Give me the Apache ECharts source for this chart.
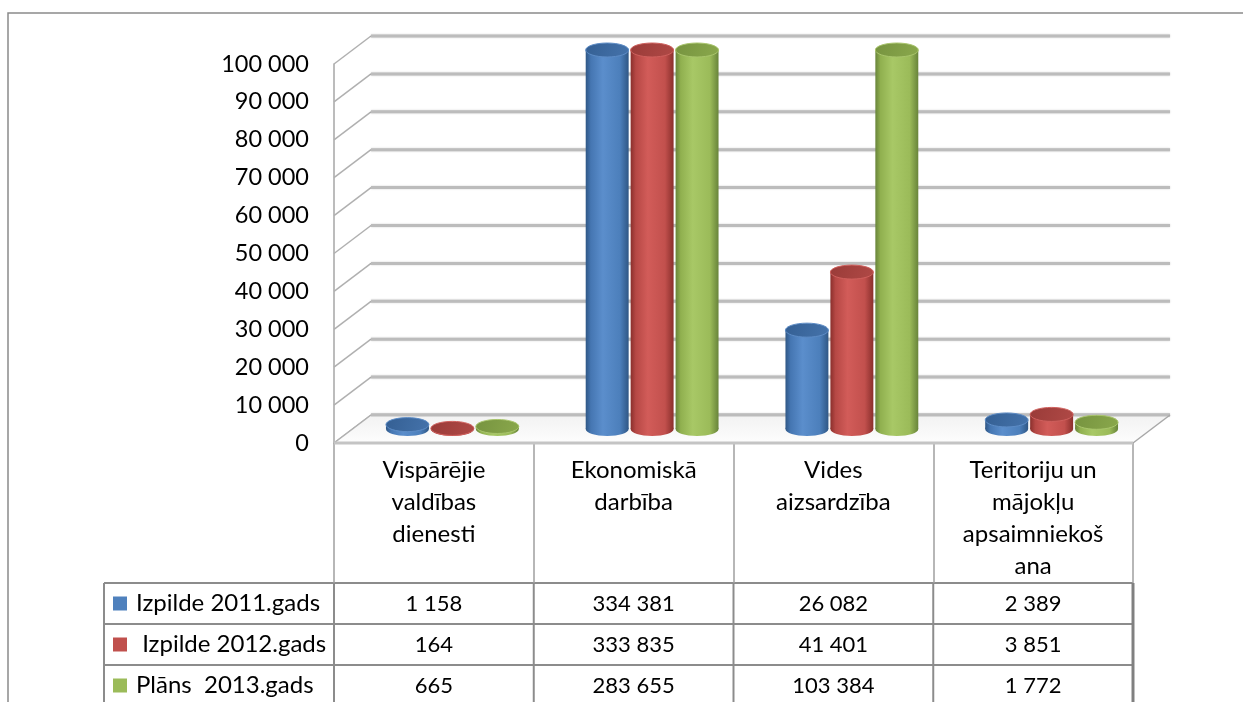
<!DOCTYPE html>
<html>
<head>
<meta charset="utf-8">
<script src="https://cdn.jsdelivr.net/npm/echarts@6/dist/echarts.min.js"></script>
<style>
html,body{margin:0;padding:0;background:#fff;}
#chart{width:1243px;height:702px;}
</style>
</head>
<body>
<div id="chart"></div>
<script>
// ---- data ----
const categories = ['Vispārējie\nvaldības\ndienesti', 'Ekonomiskā\ndarbība', 'Vides\naizsardzība', 'Teritoriju un\nmājokļu\napsaimniekoš\nana'];
const seriesNames = ['Izpilde 2011.gads', ' Izpilde 2012.gads', 'Plāns  2013.gads'];
const izpilde2011 = [1158, 334381, 26082, 2389];
const izpilde2012 = [164, 333835, 41401, 3851];
const plans2013 = [665, 283655, 103384, 1772];
const yTicks = [0, 10000, 20000, 30000, 40000, 50000, 60000, 70000, 80000, 90000, 100000];

// ---- layout / style constants ----
const Y_MAX = 100000;
const GRID = {left: 334, top: 64, width: 799, height: 379};
const DX = 37, DY = -28;
const FONT = 'Lato';
const seriesData = [izpilde2011, izpilde2012, plans2013];
const palette = [
  {main: '#4F81BD', stops: ['#2f5785', '#4576b2', '#5b8ecc', '#4c7fbb', '#2f5785'], top: ['#345f93', '#4573ab'], edge: '#5d8cc6'},
  {main: '#C0504D', stops: ['#8a2f2c', '#b64845', '#d25c59', '#c2504d', '#8a2f2c'], top: ['#993b38', '#b04946'], edge: '#cf605d'},
  {main: '#9BBB59', stops: ['#68843a', '#90b04f', '#a8c866', '#9bbb59', '#68843a'], top: ['#76933f', '#8aa84c'], edge: '#a9c56c'}
];

function fmt(v) { return String(v).replace(/\B(?=(\d{3})+(?!\d))/g, ' '); }

function wallItem(params, api) {
  const cs = params.coordSys;
  const y = api.coord([0, api.value(1)])[1];
  const x0 = cs.x;
  return {
    type: 'group',
    children: [
      {type: 'line', shape: {x1: x0, y1: y, x2: x0 + DX, y2: y + DY},
       style: {stroke: '#b0b0b0', lineWidth: 1.5}},
      {type: 'line', shape: {x1: x0 + DX, y1: y + DY, x2: x0 + cs.width + DX, y2: y + DY},
       style: {stroke: '#bcbcbc', lineWidth: 3, shadowBlur: 2, shadowColor: 'rgba(0,0,0,0.2)'}}
    ]
  };
}

function floorItem(params, api) {
  const cs = params.coordSys;
  const y0 = api.coord([0, 0])[1];
  const xl = cs.x, xr = cs.x + cs.width;
  return {
    type: 'group',
    children: [
      {type: 'polygon', shape: {points: [[xl, y0], [xr, y0], [xr + DX, y0 + DY], [xl + DX, y0 + DY]]},
       style: {fill: {type: 'linear', x: 0, y: 0, x2: 0, y2: 1, colorStops: [{offset: 0, color: '#f2f2f2'}, {offset: 1, color: '#fdfdfd'}]}}},
      {type: 'line', shape: {x1: xl + DX, y1: y0 + DY, x2: xr + DX, y2: y0 + DY},
       style: {stroke: '#bcbcbc', lineWidth: 3}},
      {type: 'line', shape: {x1: xr, y1: y0, x2: xr + DX, y2: y0 + DY},
       style: {stroke: '#a8a8a8', lineWidth: 1.5}},
      {type: 'line', shape: {x1: xl, y1: y0, x2: xl + DX, y2: y0 + DY},
       style: {stroke: '#b0b0b0', lineWidth: 1.5}},
      {type: 'line', shape: {x1: xl, y1: y0, x2: xr, y2: y0},
       style: {stroke: '#c4c4c4', lineWidth: 3}}
    ]
  };
}

function makeCylinder(sIdx) {
  const pal = palette[sIdx];
  return function (params, api) {
    const ci = api.value(0);
    const v = Math.min(api.value(1), Y_MAX);
    const base = api.coord([ci, 0]);
    const top = api.coord([ci, v]);
    const band = api.size([1, 0])[0];
    const cx = base[0] + DX / 2 + (sIdx - 1) * band * 0.225;
    const w = band * 0.215;
    const rx = w / 2, ry = 7;
    const yb = base[1] + DY / 2;
    const yt = top[1] + DY / 2;
    const grad = {type: 'linear', x: 0, y: 0, x2: 1, y2: 0, colorStops: [
      {offset: 0, color: pal.stops[0]}, {offset: 0.12, color: pal.stops[1]},
      {offset: 0.4, color: pal.stops[2]}, {offset: 0.8, color: pal.stops[3]}, {offset: 1, color: pal.stops[4]}]};
    return {
      type: 'group',
      children: [
        {type: 'ellipse', shape: {cx: cx, cy: yb, rx: rx, ry: ry}, style: {fill: grad}},
        {type: 'rect', shape: {x: cx - rx, y: yt, width: w, height: Math.max(0, yb - yt)}, style: {fill: grad}},
        {type: 'ellipse', shape: {cx: cx, cy: yt, rx: rx, ry: ry},
         style: {fill: {type: 'linear', x: 0, y: 0, x2: 1, y2: 1, colorStops: [{offset: 0, color: pal.top[0]}, {offset: 1, color: pal.top[1]}]},
                 stroke: pal.edge, lineWidth: 1}}
      ]
    };
  };
}

// ---- table graphics (built from arrays) ----
const TABLE_LEFT = 104, ROW_TOP = 583, ROW_H = 41;
const COL_W = GRID.width / categories.length;
const TABLE_RIGHT = GRID.left + GRID.width;
const graphics = [];
const lineColor = '#8c8c8c';
for (let r = 0; r <= seriesNames.length; r++) {
  const y = ROW_TOP + r * ROW_H;
  graphics.push({type: 'line', shape: {x1: TABLE_LEFT, y1: y, x2: TABLE_RIGHT, y2: y}, style: {stroke: lineColor, lineWidth: 2}});
}
const tableBottom = ROW_TOP + seriesNames.length * ROW_H;
graphics.push({type: 'line', shape: {x1: TABLE_LEFT, y1: ROW_TOP, x2: TABLE_LEFT, y2: tableBottom}, style: {stroke: lineColor, lineWidth: 2}});
for (let k = 0; k < categories.length; k++) {
  const x = GRID.left + k * COL_W;
  graphics.push({type: 'line', shape: {x1: x, y1: ROW_TOP, x2: x, y2: tableBottom}, style: {stroke: lineColor, lineWidth: 2}});
}
graphics.push({type: 'line', shape: {x1: TABLE_RIGHT, y1: ROW_TOP, x2: TABLE_RIGHT, y2: tableBottom}, style: {stroke: '#808080', lineWidth: 3}});
seriesNames.forEach(function (name, r) {
  const yc = ROW_TOP + r * ROW_H + ROW_H / 2;
  graphics.push({type: 'rect', shape: {x: 113, y: yc - 7, width: 14, height: 14}, style: {fill: palette[r].main}});
  graphics.push({type: 'text', x: 136, y: yc, style: {text: name, font: '24px ' + FONT, fill: '#000', verticalAlign: 'middle', align: 'left'}});
  seriesData[r].forEach(function (v, k) {
    graphics.push({type: 'text', x: GRID.left + (k + 0.5) * COL_W, y: yc,
      style: {text: fmt(v), font: '22px ' + FONT, fill: '#000', verticalAlign: 'middle', align: 'center'}});
  });
});
// outer chart border (left + top)
graphics.push({type: 'polyline', shape: {points: [[8, 702], [8, 13], [1243, 13]]}, style: {stroke: '#8a8a8a', lineWidth: 1.5, fill: null}});

const chart = echarts.init(document.getElementById('chart'), null, {renderer: 'canvas'});
const option = {
  backgroundColor: '#ffffff',
  animation: false,
  grid: {left: GRID.left, top: GRID.top, width: GRID.width, height: GRID.height, outerBoundsMode: 'none'},
  xAxis: {
    type: 'category', data: categories, boundaryGap: true,
    axisLine: {show: false},
    axisTick: {show: true, length: 140, lineStyle: {color: '#a0a0a0', width: 1.5}},
    axisLabel: {interval: 0, margin: 11, fontFamily: FONT, fontSize: 24, lineHeight: 32, color: '#000'},
    splitLine: {show: false}
  },
  yAxis: {
    type: 'value', min: 0, max: Y_MAX, interval: 10000,
    axisLine: {show: true, lineStyle: {color: '#a6a6a6', width: 1.5}},
    axisTick: {show: false},
    splitLine: {show: false},
    axisLabel: {margin: 25, fontFamily: FONT, fontSize: 23.5, color: '#000', formatter: fmt}
  },
  graphic: graphics,
  series: [
    {type: 'custom', name: 'wall', clip: false, z: 1, silent: true, renderItem: wallItem,
     encode: {x: 0, y: 1}, data: yTicks.map(function (t) { return [0, t]; })},
    {type: 'custom', name: 'floor', clip: false, z: 2, silent: true, renderItem: floorItem,
     encode: {x: 0, y: 1}, data: [[0, 0]]}
  ].concat(seriesNames.map(function (name, s) {
    return {type: 'custom', name: name, clip: false, z: 3 + s, renderItem: makeCylinder(s),
      encode: {x: 0, y: 1}, data: seriesData[s].map(function (v, i) { return [i, v]; })};
  }))
};
chart.setOption(option);
</script>
</body>
</html>
